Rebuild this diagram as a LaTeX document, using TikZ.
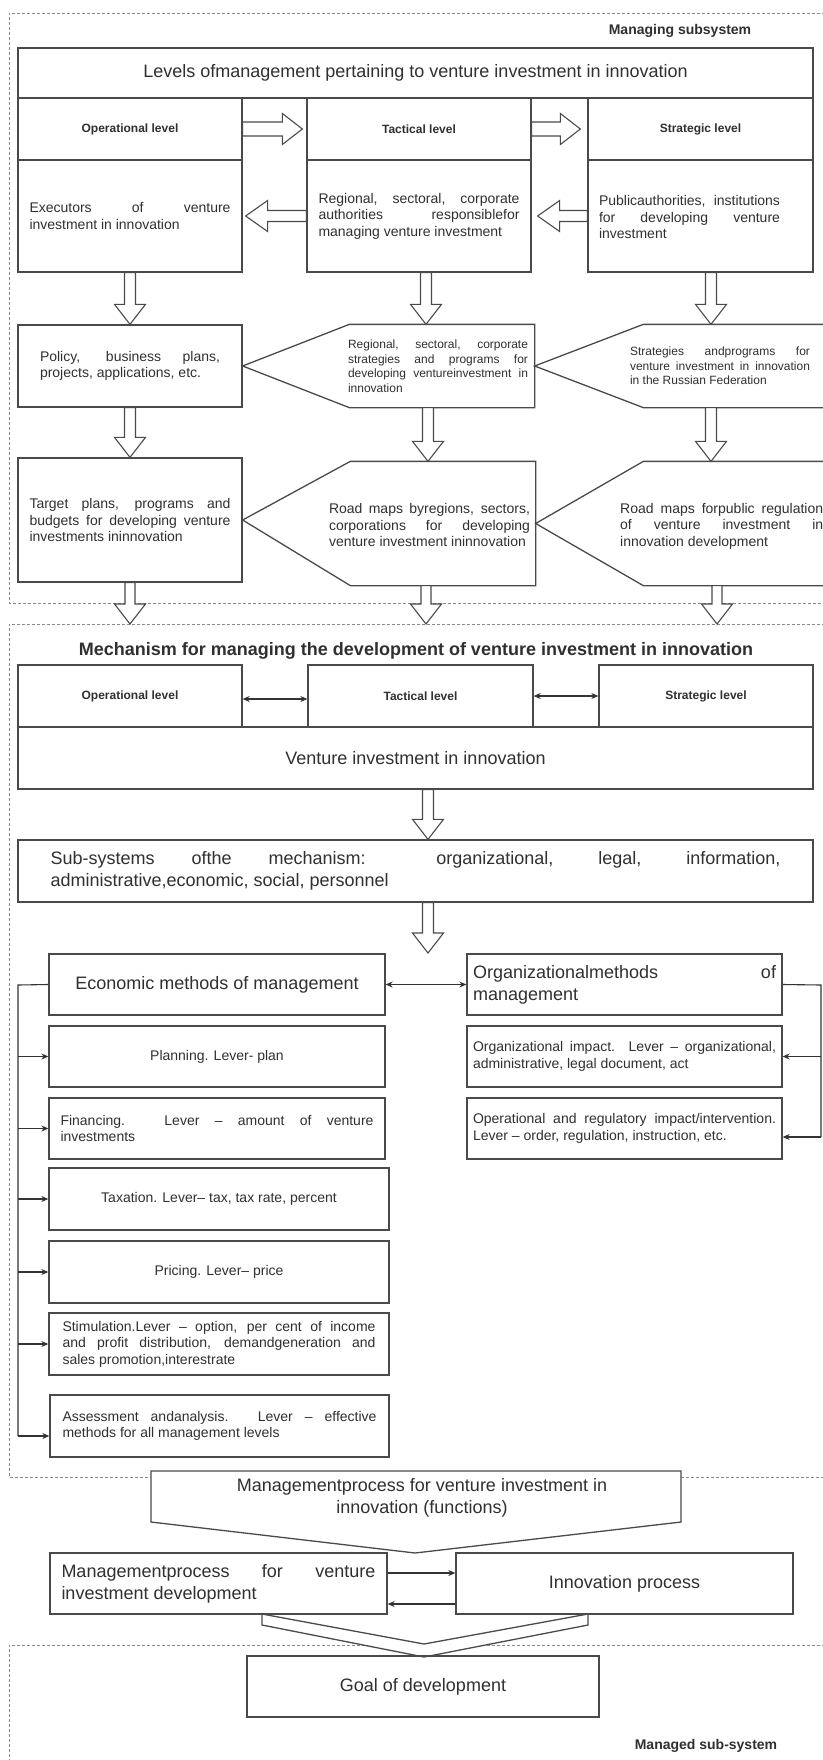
\documentclass[tikz,border=0pt]{standalone}
\usepackage{fontspec}
\setmainfont{Liberation Sans}
\usetikzlibrary{calc,arrows.meta}
\definecolor{boxc}{HTML}{4A4A4A}
\definecolor{txtc}{HTML}{303030}
\definecolor{bordc}{HTML}{8A8A8A}
\definecolor{arrc}{HTML}{333333}
\tolerance=10000
\hyphenpenalty=10000
\exhyphenpenalty=10000
\newcommand\mybox[7]{\pgfmathsetmacro\mbW{#5-#3}\pgfmathsetmacro\mbH{#6-#4}\pgfmathsetmacro\mbX{(#3+#5)/2}\pgfmathsetmacro\mbY{(#4+#6)/2}\node[bx,#1,minimum width=\mbW pt,minimum height=\mbH pt] (#2) at (\mbX,\mbY) {#7};}
\newcommand\barrowD[3]{\draw[barrow] let \p1=(#1), \p2=(#2) in
 ({\x1-#3pt},\y1) -- ({\x1-#3pt},{\y2+20pt}) -- ({\x1-15.5pt},{\y2+20pt}) -- (\x1,\y2) -- ({\x1+15.5pt},{\y2+20pt}) -- ({\x1+#3pt},{\y2+20pt}) -- ({\x1+#3pt},\y1) -- cycle;}
\newcommand\barrowR[2]{\draw[barrow] let \p1=(#1), \p2=(#2) in
 (\x1,{\y1+7pt}) -- ({\x2-20pt},{\y1+7pt}) -- ({\x2-20pt},{\y1+15.5pt}) -- (\x2,\y1) -- ({\x2-20pt},{\y1-15.5pt}) -- ({\x2-20pt},{\y1-7pt}) -- (\x1,{\y1-7pt}) -- cycle;}
\newcommand\barrowL[2]{\draw[barrow] let \p1=(#1), \p2=(#2) in
 (\x1,{\y1+5.5pt}) -- ({\x2+22pt},{\y1+5.5pt}) -- ({\x2+22pt},{\y1+15.5pt}) -- (\x2,\y1) -- ({\x2+22pt},{\y1-15.5pt}) -- ({\x2+22pt},{\y1-5.5pt}) -- (\x1,{\y1-5.5pt}) -- cycle;}
\begin{document}
\begin{tikzpicture}[x=1pt,y=-1pt,
  bx/.style={draw=boxc, line width=1.3pt, rectangle, inner sep=0pt, text=txtc, align=center},
  nobox/.style={draw=none},
  tx/.style={inner sep=0pt, text=txtc},
  f12/.style={font=\fontsize{12}{14.5}\selectfont},
  f14/.style={font=\fontsize{14}{16.5}\selectfont},
  f18/.style={font=\fontsize{18}{22}\selectfont},
  fb12/.style={font=\fontsize{12}{14.5}\selectfont\bfseries},
  fb14/.style={font=\fontsize{14}{16.5}\selectfont\bfseries},
  fb18/.style={font=\fontsize{18}{22}\selectfont\bfseries},
  jw/.style={text width=#1, align=justify},
  boxline/.style={draw=boxc, line width=1.3pt, line join=miter},
  barrow/.style={draw=boxc, line width=1.1pt, fill=white, line join=miter},
  border/.style={draw=bordc, line width=0.8pt, dash pattern=on 3pt off 2pt},
  lline/.style={draw=arrc, line width=1.1pt},
  sarrow/.style={draw=arrc, line width=1.1pt, -{Stealth[length=7pt,width=6pt]}},
  darrow/.style={draw=arrc, line width=1.1pt, {Stealth[length=7pt,width=6pt]}-{Stealth[length=7pt,width=6pt]}}
]
\useasboundingbox (0,0) rectangle (822,1760);
\fill[white] (0,0) rectangle (822,1760);

% ---------- Managing subsystem ----------
\draw[border] (840,13) -- (9,13) -- (9,603) -- (840,603);
\node[tx,fb14] (lblA) at (680,31) {Managing subsystem};

\mybox{f18}{title}{18}{48}{813}{98}{Levels ofmanagement pertaining to venture investment in innovation}
\mybox{fb12}{opH}{18}{98}{242}{160}{Operational level}
\mybox{fb12}{tacH}{307}{98}{531}{160}{Tactical level}
\mybox{fb12}{strH}{588}{98}{813}{160}{Strategic level}
\mybox{f14,jw=201pt}{opB}{18}{160}{242}{272}{Executors of venture\linebreak investment in innovation}
\mybox{f14,jw=201pt}{tacB}{307}{160}{531}{272}{Regional, sectoral, corporate\linebreak authorities responsiblefor\linebreak managing venture investment}
\mybox{}{strB}{588}{160}{813}{272}{}
\node[tx,f14,jw=181pt] (strBt) at (689.5,217) {Publicauthorities, institutions\linebreak for developing venture\linebreak investment};

\barrowR{opH.east}{$(tacH.west)+(-4,0)$}
\barrowR{tacH.east}{$(strH.west)+(-7,0)$}
\barrowL{tacB.west}{$(opB.east)+(3,0)$}
\barrowL{strB.west}{$(tacB.east)+(6,0)$}

% row 2
\mybox{f14,jw=180pt}{pol}{18}{325}{242}{407}{Policy, business plans,\linebreak projects, applications, etc.}
\mybox{nobox}{tac2}{350}{325}{534}{407}{}
\draw[boxline] (tac2.north west) -- (tac2.north east) -- (tac2.south east) -- (tac2.south west) -- (pol.east) -- cycle;
\node[tx,f12,jw=180pt] (tac2t) at (438,366) {Regional, sectoral, corporate\linebreak strategies and programs for\linebreak developing ventureinvestment in\linebreak innovation};
\mybox{nobox}{str2}{644}{325}{830}{407}{}
\draw[boxline] (str2.north west) -- (str2.north east) -- (str2.south east) -- (str2.south west) -- (tac2.east) -- cycle;
\node[tx,f12,jw=180pt] (str2t) at (720,366) {Strategies andprograms for\linebreak venture investment in innovation\linebreak in the Russian Federation};

% row 3
\mybox{f14,jw=201pt}{tgt}{18}{458}{242}{582}{Target plans, programs and\linebreak budgets for developing venture\linebreak investments ininnovation}
\mybox{nobox}{tac3}{351}{462}{535}{585}{}
\draw[boxline] (tac3.north west) -- (tac3.north east) -- (tac3.south east) -- (tac3.south west) -- (tgt.east) -- cycle;
\node[tx,f14,jw=201pt] (tac3t) at (429.5,525) {Road maps byregions, sectors,\linebreak corporations for developing\linebreak venture investment ininnovation};
\mybox{nobox}{str3}{644}{462}{830}{585}{}
\draw[boxline] (str3.north west) -- (str3.north east) -- (str3.south east) -- (str3.south west) -- (tac3.east) -- cycle;
\node[tx,f14,jw=203pt,anchor=west] (str3t) at (620,526) {Road maps forpublic regulation\linebreak of venture investment in\linebreak innovation development};

\barrowD{opB.south}{pol.north}{5.5}
\barrowD{$(tacB.south)+(7,0)$}{tac2.north}{5.5}
\barrowD{$(strB.south)+(10.5,0)$}{str2.north}{5.5}
\barrowD{pol.south}{tgt.north}{5.5}
\barrowD{$(tac2.south)+(-14,0)$}{tac3.north}{5.5}
\barrowD{$(str2.south)+(-26,0)$}{str3.north}{5.5}

% ---------- Mechanism ----------
\draw[border] (840,624) -- (9,624) -- (9,1477) -- (151,1477);
\draw[border] (681,1477) -- (840,1477);
\coordinate (mtop) at (0,624);
\barrowD{tgt.south}{mtop}{5}
\barrowD{$(tac3.south)+(-17,0)$}{mtop}{5}
\barrowD{$(str3.south)+(-20,0)$}{mtop}{5}

\node[tx,fb18] (mtitle) at (416,651) {Mechanism for managing the development of venture investment in innovation};
\mybox{fb12}{mOp}{18}{665}{242}{727}{Operational level}
\mybox{fb12}{mTac}{308}{665}{533}{727}{Tactical level}
\mybox{fb12}{mStr}{599}{665}{813}{727}{Strategic level}
\draw[darrow] ($(mOp.east)+(0,3)$) -- ($(mTac.west)+(0,3)$);
\draw[darrow] (mTac.east) -- (mStr.west);
\mybox{f18}{vii}{18}{727}{813}{789}{Venture investment in innovation}
\mybox{f18,jw=730pt}{sub}{18}{840}{813}{902}{Sub-systems ofthe mechanism: organizational, legal, information,\linebreak administrative,economic, social, personnel}
\barrowD{$(vii.south)+(12.5,0)$}{sub.north}{5.5}
\coordinate (mtip) at (0,953);
\barrowD{$(sub.south)+(12.5,0)$}{mtip}{5.5}

\mybox{f18}{econ}{49}{954}{385}{1015}{Economic methods of management}
\mybox{f18,jw=303pt}{org}{467}{954}{782}{1015}{Organizationalmethods of\linebreak management}
\draw[darrow] (econ.east) -- (org.west);

\mybox{f14}{plan}{49}{1026}{385}{1087}{Planning. Lever- plan}
\mybox{f14,jw=313pt}{fin}{49}{1098}{385}{1159}{Financing. Lever – amount of venture\linebreak investments}
\mybox{f14}{tax}{49}{1168}{389}{1230}{Taxation. Lever– tax, tax rate, percent}
\mybox{f14}{pri}{49}{1241}{389}{1303}{Pricing. Lever– price}
\mybox{f14,jw=313pt}{sti}{49}{1313}{389}{1375}{Stimulation.Lever – option, per cent of income\linebreak and profit distribution, demandgeneration and\linebreak sales promotion,interestrate}
\mybox{f14,jw=314pt}{ass}{50}{1395}{389}{1457}{Assessment andanalysis. Lever – effective\linebreak methods for all management levels}
\mybox{f14,jw=303pt}{oimp}{467}{1026}{782}{1087}{Organizational impact. Lever – organizational,\linebreak administrative, legal document, act}
\mybox{f14,jw=303pt}{oreg}{467}{1098}{782}{1159}{Operational and regulatory impact/intervention.\linebreak Lever – order, regulation, instruction, etc.}

\coordinate (lb) at (18,985);
\coordinate (lbe) at ($(lb |- ass.west)+(0,10)$);
\draw[lline] (econ.west) -- (lb) -- (lbe);
\draw[sarrow] (lb |- plan.west) -- (plan.west);
\draw[sarrow] (lb |- fin.west) -- (fin.west);
\draw[sarrow] (lb |- tax.west) -- (tax.west);
\draw[sarrow] (lb |- pri.west) -- (pri.west);
\draw[sarrow] (lb |- sti.west) -- (sti.west);
\draw[sarrow] (lbe) -- ($(ass.west)+(0,10)$);

\coordinate (rb) at (821,985);
\coordinate (rbe) at ($(rb |- oreg.east)+(0,8.5)$);
\draw[lline] (org.east) -- (rb) -- (rbe);
\draw[sarrow] (rb |- oimp.east) -- (oimp.east);
\draw[sarrow] (rbe) -- ($(oreg.east)+(0,8.5)$);

% ---------- process ----------
\draw[boxline, fill=white] (151,1471) -- (681,1471) -- (681,1522) -- (415,1553) -- (151,1522) -- cycle;
\node[tx,f18,align=center] (proc) at (422,1498) {Managementprocess for venture investment in\\innovation (functions)};

\mybox{f18,jw=314pt}{mpd}{50}{1553}{387}{1614}{Managementprocess for venture\linebreak investment development}
\mybox{f18}{inn}{456}{1553}{793}{1614}{Innovation process}
\draw[sarrow] ($(mpd.east)+(0,-10.5)$) -- ($(inn.west)+(0,-10.5)$);
\draw[sarrow] ($(inn.west)+(0,20.5)$) -- ($(mpd.east)+(0,20.5)$);

% ---------- Managed sub-system ----------
\draw[border] (840,1645) -- (9,1645) -- (9,1760);
\draw[boxline, fill=white] (262,1614) -- (424,1644) -- (588,1614) -- (588,1625) -- (424,1657) -- (262,1625) -- cycle;
\mybox{f18}{goal}{247}{1656}{599}{1717}{Goal of development}
\node[tx,fb14] (lblB) at (706,1746) {Managed sub-system};
\end{tikzpicture}
\end{document}
